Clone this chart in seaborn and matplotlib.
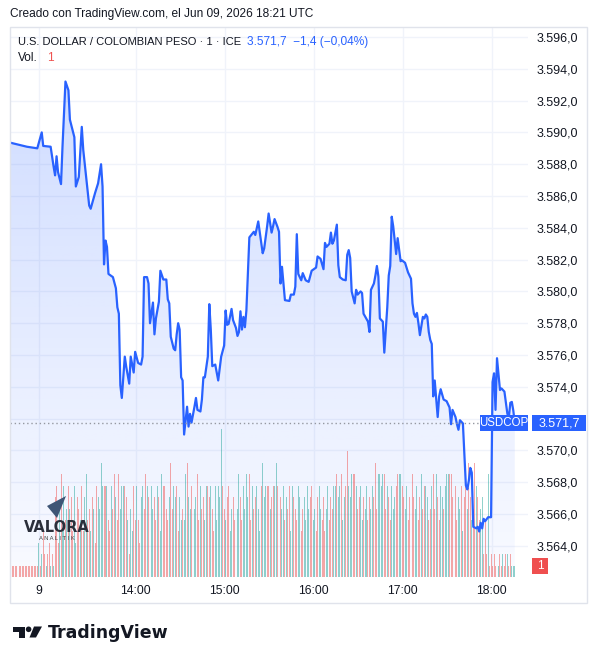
import numpy as np
import matplotlib
matplotlib.use("Agg")
import matplotlib.pyplot as plt
import matplotlib.transforms as mtransforms
from matplotlib.patches import Rectangle, Polygon, Ellipse
import seaborn as sns

# --- datos (indice = barra de 1 minuto) ---
bar_idx = [0, 11, 18, 21, 22, 27, 29, 30, 31, 32, 34, 35, 37, 39, 40, 43, 44, 46, 48, 49,
           53, 54, 57, 59, 61, 62, 63, 64, 65, 66, 69, 71, 72, 73, 74, 75, 77, 78, 80, 81,
           83, 84, 86, 88, 89, 90, 92, 93, 94, 96, 97, 98, 100, 101, 103, 105, 106, 107, 108, 110,
           111, 112, 113, 114, 115, 116, 117, 119, 120, 121, 122, 124, 125, 126, 128, 129, 130, 131, 133, 134,
           135, 136, 138, 140, 142, 144, 145, 146, 147, 149, 150, 152, 153, 154, 155, 156, 157, 158, 159, 161,
           164, 165, 167, 170, 171, 173, 174, 176, 177, 178, 180, 181, 182, 183, 185, 188, 189, 191, 192, 193,
           194, 196, 197, 199, 201, 203, 206, 207, 209, 211, 212, 213, 215, 216, 217, 218, 220, 221, 222, 224,
           226, 227, 228, 229, 230, 232, 233, 234, 236, 237, 238, 241, 242, 243, 245, 246, 247, 248, 249, 251,
           252, 254, 255, 256, 257, 258, 260, 261, 263, 264, 266, 267, 268, 270, 271, 272, 273, 274, 275, 276,
           278, 279, 280, 281, 282, 283, 284, 285, 286, 288, 289, 290, 292, 294, 296, 297, 298, 300, 301, 302,
           303, 305, 306, 307, 308, 309, 310, 311, 312, 314, 315, 316, 317, 318, 319, 320, 322, 324, 325, 326,
           327, 328, 330, 331, 333, 334, 335, 336, 337, 338, 339, 340]

price = [3589.35, 3589.1, 3589.0, 3590.0, 3589.15, 3589.1, 3587.85, 3587.3, 3588.5, 3587.5,
         3586.75, 3589.1, 3593.2, 3592.65, 3590.8, 3589.7, 3586.6, 3587.2, 3590.35, 3588.9,
         3585.4, 3585.2, 3586.2, 3586.8, 3588.0, 3586.6, 3581.7, 3583.2, 3582.8, 3581.1,
         3580.9, 3580.2, 3579.0, 3578.6, 3574.1, 3573.3, 3575.9, 3575.25, 3574.2, 3575.9,
         3574.9, 3576.2, 3575.5, 3575.4, 3575.9, 3580.9, 3580.9, 3580.5, 3578.0, 3579.3,
         3577.3, 3578.3, 3579.35, 3581.3, 3580.75, 3580.75, 3579.5, 3579.25, 3577.15, 3576.4,
         3576.3, 3577.3, 3578.0, 3577.6, 3574.6, 3574.4, 3571.0, 3572.75, 3571.5, 3572.3,
         3571.75, 3572.75, 3573.3, 3572.55, 3572.45, 3573.2, 3574.6, 3574.6, 3575.9, 3579.2,
         3577.6, 3575.3, 3575.4, 3574.4, 3575.9, 3576.6, 3578.8, 3577.9, 3577.95, 3578.9,
         3578.2, 3577.7, 3577.2, 3577.45, 3578.75, 3577.6, 3578.4, 3577.75, 3578.8, 3583.4,
         3583.75, 3583.55, 3584.4, 3582.4, 3582.7, 3584.1, 3584.9, 3583.7, 3584.1, 3584.55,
         3584.05, 3583.75, 3580.5, 3581.55, 3579.45, 3579.4, 3579.8, 3579.8, 3580.3, 3583.6,
         3581.1, 3580.7, 3581.15, 3580.7, 3580.6, 3581.3, 3581.5, 3582.2, 3582.05, 3581.4,
         3583.05, 3582.8, 3583.0, 3583.7, 3583.0, 3583.2, 3584.2, 3581.65, 3580.9, 3580.75,
         3580.7, 3582.3, 3582.6, 3582.1, 3580.0, 3579.25, 3580.1, 3579.8, 3580.0, 3579.9,
         3578.6, 3578.1, 3577.45, 3580.1, 3580.5, 3581.0, 3581.6, 3580.95, 3578.3, 3578.1,
         3576.15, 3579.0, 3581.0, 3581.6, 3584.7, 3584.1, 3582.35, 3583.35, 3581.9, 3581.95,
         3581.8, 3581.5, 3581.2, 3580.8, 3579.25, 3578.6, 3578.4, 3578.65, 3578.0, 3577.25,
         3578.4, 3578.3, 3578.55, 3578.4, 3577.45, 3576.95, 3576.7, 3573.4, 3574.4, 3572.1,
         3573.4, 3573.85, 3573.2, 3573.1, 3572.7, 3571.65, 3572.55, 3572.1, 3571.65, 3571.3,
         3571.9, 3571.7, 3569.8, 3567.8, 3567.55, 3568.1, 3568.9, 3568.6, 3565.2, 3565.1,
         3565.2, 3564.9, 3565.45, 3565.1, 3565.7, 3565.55, 3565.8, 3565.8, 3574.3, 3574.85,
         3572.55, 3575.8, 3573.8, 3573.9, 3573.7, 3573.0, 3572.3, 3572.1, 3573.0, 3573.05,
         3572.5, 3571.7]

volume = [2, 1, 1, 1, 1, 1, 1, 1, 1, 1, 1, 1, 1, 1, 1, 1, 1, 1, 1,
          3, 1, 2, 4, 2, 1, 2, 3, 1, 2, 1, 7, 8, 3, 6, 9, 4, 8, 5, 6, 8,
          6, 7, 4, 8, 3, 7, 6, 5, 8, 4, 7, 9, 5, 6, 4, 7, 6, 3, 8, 7,
          6, 10, 8, 8, 8, 8, 5, 4, 8, 6, 9, 7, 5, 9, 6, 8, 8, 8, 7, 5,
          2, 6, 4, 8, 5, 8, 5, 3, 7, 8, 6, 9, 8, 7, 4, 8, 6, 7, 5, 8,
          7, 4, 9, 8, 8, 6, 5, 7, 10, 6, 8, 7, 8, 4, 7, 5, 6, 5, 9, 10,
          7, 6, 8, 5, 6, 7, 9, 5, 8, 6, 7, 5, 8, 8, 7, 8, 6, 4, 8, 5,
          8, 7, 13, 8, 6, 5, 7, 8, 4, 6, 7, 5, 8, 6, 9, 7, 5, 8, 6, 9,
          7, 9, 5, 8, 6, 7, 8, 6, 4, 8, 10, 7, 8, 8, 8, 6, 7, 8, 8, 10,
          8, 10, 7, 6, 8, 5, 7, 6, 8, 4, 8, 7, 6, 5, 8, 7, 4, 6, 7, 5,
          8, 6, 7, 8, 5, 6, 4, 7, 8, 6, 5, 7, 4, 6, 8, 5, 7, 6, 8, 8,
          9, 7, 8, 9, 5, 7, 8, 11, 8, 7, 9, 9, 9, 8, 6, 7, 8, 5, 7, 6,
          8, 5, 7, 6, 8, 7, 10, 6, 9, 9, 8, 9, 9, 6, 8, 7, 5, 8, 6, 7,
          8, 9, 9, 9, 8, 7, 6, 8, 5, 7, 8, 9, 7, 6, 8, 5, 7, 9, 6, 8,
          8, 7, 5, 6, 8, 9, 6, 9, 7, 5, 8, 7, 6, 8, 9, 9, 9, 9, 7, 6,
          8, 5, 7, 6, 8, 4, 7, 8, 6, 10, 7, 5, 6, 10, 8, 7, 5, 6, 7, 2,
          5, 2, 9, 1, 2, 1, 2, 1, 2, 1, 2, 1, 2, 1, 2, 2, 1, 2, 1, 1, 1]

# u = vela alcista (verde), d = bajista (roja)
direction = ("dddddddddddddddddddu" "dudduddududdduduudud" "udduuddudduuddududdu"
             "uuuddudduddudduuuddu" "duuddudduuddudduuddu" "duuddddudduudduuduud"
             "uudduuddudduuddudduu" "uuuddudduudduuudduuu" "uddudduuuduuuddudduu"
             "ddduududduuddduudduu" "uudduudduuddduuddduu" "duuduudduuuddudduudu"
             "udduuddduuuuddudduuu" "dduudduuddudduuddudd" "uudduddudduuduuudddu"
             "dduududdudduddudduud" "dduddddddudduddudduuu")

time_ticks = [19, 84.3, 144.3, 204.3, 264.3, 324.3]
time_labels = ["9", "14:00", "15:00", "16:00", "17:00", "18:00"]
price_ticks = np.arange(3564, 3597, 2)
last_price = 3571.7
last_volume = 1

# --- estilo ---
sns.set_style("white")
plt.rcParams["font.family"] = ["Liberation Sans", "DejaVu Sans"]

W, H = 598, 664
BLUE = "#2962ff"
TXT = "#131722"
GRID = "#f0f3fa"


def fx(px):
    return px / W


def fy(py):
    return 1 - py / H


def fmt_price(v):
    # formato es-CO: 3.596,0
    return f"{v:,.1f}".replace(",", "X").replace(".", ",").replace("X", ".")


fig = plt.figure(figsize=(W / 100, H / 100), dpi=100)
fig.patch.set_facecolor("white")

rect = [fx(10), fy(577), fx(528) - fx(10), fy(27) - fy(577)]
ax_fill = fig.add_axes(rect)
ax_vol = fig.add_axes(rect)
ax = fig.add_axes(rect)

xlim = (-0.4, 348.9)
ylim = (3562.04, 3596.63)
for a in (ax_fill, ax_vol, ax):
    a.set_xlim(*xlim)
    for s in a.spines.values():
        s.set_visible(False)
ax_vol.patch.set_alpha(0)
ax.patch.set_alpha(0)

# grilla + area con degradado
ax_fill.set_ylim(*ylim)
ax_fill.set_xticks(time_ticks)
ax_fill.set_yticks(price_ticks)
ax_fill.tick_params(length=0, labelbottom=False, labelleft=False)
ax_fill.grid(True, color=GRID, lw=1)
ax_fill.set_axisbelow(True)

poly = ax_fill.fill_between(bar_idx, price, ylim[0], color="none", lw=0)
top = max(price)
grad = np.zeros((256, 1, 4))
grad[:, 0, 0] = 41 / 255
grad[:, 0, 1] = 98 / 255
grad[:, 0, 2] = 1.0
grad[:, 0, 3] = np.linspace(0.22, 0.03, 256)
img = ax_fill.imshow(grad, extent=[bar_idx[0], bar_idx[-1], ylim[0], top],
                     aspect="auto", origin="upper", zorder=1)
img.set_clip_path(poly.get_paths()[0], transform=ax_fill.transData)
ax_fill.set_xlim(*xlim)
ax_fill.set_ylim(*ylim)

# volumen
vol_colors = [(38 / 255, 166 / 255, 154 / 255, 0.5) if d == "u" else (239 / 255, 83 / 255, 80 / 255, 0.5)
              for d in direction]
ax_vol.bar(np.arange(len(volume)), volume, width=0.66, color=vol_colors, lw=0)
ax_vol.set_ylim(0, 48.2)
ax_vol.set_xticks([])
ax_vol.set_yticks([])

# precio
sns.lineplot(x=bar_idx, y=price, ax=ax, color=BLUE, lw=1.6)
ax.set_ylim(*ylim)
ax.set_xlabel("")
ax.set_ylabel("")
ax.yaxis.tick_right()
ax.set_yticks(price_ticks)
# la etiqueta 3.572,0 queda tapada por la caja del ultimo precio
ax.set_yticklabels(["" if abs(v - last_price) < 1 else fmt_price(v) for v in price_ticks])
ax.set_xticks(time_ticks)
ax.set_xticklabels(time_labels)
ax.tick_params(axis="y", length=0, pad=6.5, labelsize=9, labelcolor=TXT)
ax.tick_params(axis="x", length=0, pad=6, labelsize=8.7, labelcolor=TXT)

# linea de ultimo precio
ax.axhline(last_price, xmin=0, xmax=(480 - 10) / 518, color="#9598a1", lw=1, ls=(0, (1, 2)))

blend_p = mtransforms.blended_transform_factory(fig.transFigure, ax.transData)
blend_v = mtransforms.blended_transform_factory(fig.transFigure, ax_vol.transData)
hp = 16 / 15.9
fig.patches.append(Rectangle((fx(480), last_price - hp / 2), fx(528) - fx(480), hp,
                             transform=blend_p, color=BLUE, lw=0))
fig.patches.append(Rectangle((fx(532), last_price - hp / 2), fx(586) - fx(532), hp,
                             transform=blend_p, color=BLUE, lw=0))
fig.text(fx(504), last_price, "USDCOP", transform=blend_p, ha="center", va="center",
         color="white", fontsize=8.3)
fig.text(fx(559), last_price, fmt_price(last_price), transform=blend_p, ha="center", va="center",
         color="white", fontsize=9)
hv = 16 / 11.4
fig.patches.append(Rectangle((fx(532), last_volume - hv / 2), fx(548) - fx(532), hv,
                             transform=blend_v, color="#ef4f4f", lw=0))
fig.text(fx(540), last_volume, str(last_volume), transform=blend_v, ha="center", va="center",
         color="white", fontsize=8.5)

# marco
fig.patches.append(Rectangle((fx(10), fy(603)), fx(587) - fx(10), fy(27) - fy(603),
                             transform=fig.transFigure, fill=False, ec="#e0e3eb", lw=1))

# textos de cabecera
fig.text(fx(10), fy(14), "Creado con TradingView.com, el Jun 09, 2026 18:21 UTC",
         va="center", ha="left", fontsize=8.6, color=TXT)
fig.text(fx(18), fy(42), "U.S. DOLLAR / COLOMBIAN PESO \u00b7 1 \u00b7 ICE",
         va="center", ha="left", fontsize=8.0, color=TXT)
fig.text(fx(247), fy(42), "3.571,7  \u22121,4 (\u22120,04%)",
         va="center", ha="left", fontsize=8.6, color=BLUE)
fig.text(fx(18), fy(58), "Vol.", va="center", ha="left", fontsize=8.6, color=TXT)
fig.text(fx(47), fy(58), "1", va="center", ha="left", fontsize=8.6, color="#ef5350")

# marca de agua VALORA
fig.patches.append(Polygon([(fx(47), fy(506)), (fx(66), fy(496)), (fx(57), fy(518))],
                           closed=True, transform=fig.transFigure, color="#3e5575", lw=0))
fig.text(fx(57), fy(527), "VALORA", ha="center", va="center", fontsize=10.5,
         fontweight="bold", color="#2b2f3a", family="DejaVu Sans")
fig.text(fx(57), fy(538.5), "A N A L I T I K", ha="center", va="center", fontsize=4.2,
         color="#444444")

# logo TradingView
k = "#131722"
fig.patches.append(Polygon([(fx(12.5), fy(626.5)), (fx(25), fy(626.5)), (fx(25), fy(637.5)),
                            (fx(18.5), fy(637.5)), (fx(18.5), fy(632.3)), (fx(12.5), fy(632.3))],
                           closed=True, transform=fig.transFigure, color=k, lw=0))
fig.patches.append(Ellipse((fx(28.6), fy(629.3)), 5.6 / W, 5.6 / H,
                           transform=fig.transFigure, color=k, lw=0))
fig.patches.append(Polygon([(fx(34), fy(626.5)), (fx(42), fy(626.5)), (fx(36), fy(637.5)),
                            (fx(29.5), fy(637.5))],
                           closed=True, transform=fig.transFigure, color=k, lw=0))
fig.text(fx(48), fy(637.5), "TradingView", ha="left", va="baseline", fontsize=12.5,
         fontweight="bold", color=k, family="DejaVu Sans")

fig.savefig("out.png", dpi=100)
